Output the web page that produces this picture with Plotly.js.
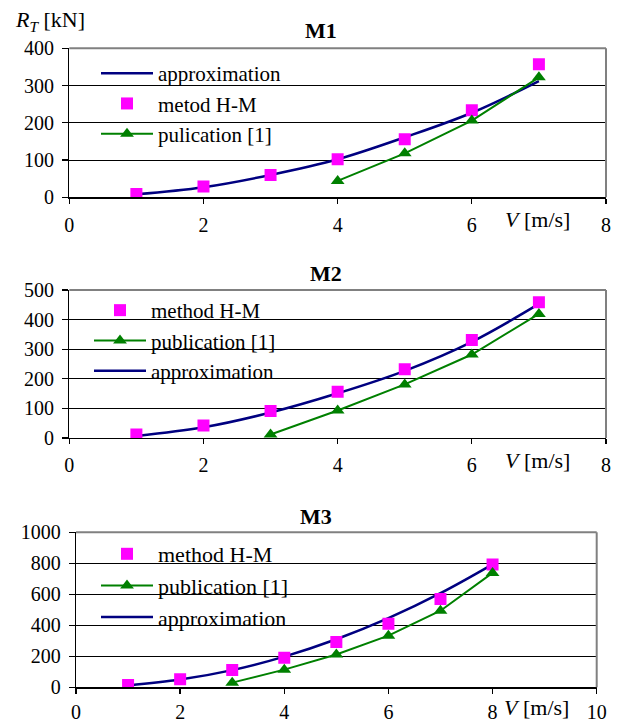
<!DOCTYPE html>
<html>
<head>
<meta charset="utf-8">
<script src="https://cdn.plot.ly/plotly-3.0.1.min.js"></script>
<style>html,body{margin:0;padding:0;background:#fff;}#chart{width:621px;height:726px;}</style>
</head>
<body>
<div id="chart"></div>
<script>
// ---- data ----
const vM1 = [1, 2, 3, 4, 5, 6, 7];
const hmM1 = [9, 29, 60, 102, 156, 234, 357];
const pubVM1 = [4, 5, 6, 7];
const pubM1 = [44, 118, 206, 322];
const approxM1 = [8, 27, 60, 102, 161, 227, 312];

const vM2 = [1, 2, 3, 4, 5, 6, 7];
const hmM2 = [12, 42, 91, 156, 232, 331, 459];
const pubVM2 = [3, 4, 5, 6, 7];
const pubM2 = [12, 93, 181, 282, 419];
const approxM2 = [7, 36, 86, 151, 227, 325, 453];

const vM3 = [1, 2, 3, 4, 5, 6, 7, 8];
const hmM3 = [15, 52, 112, 191, 292, 410, 569, 792];
const pubVM3 = [3, 4, 5, 6, 7, 8];
const pubM3 = [30, 114, 212, 333, 494, 738];
const approxM3 = [12, 50, 111, 198, 310, 446, 607, 793];

const titles = ['M1', 'M2', 'M3'];
const namesM1 = ['approximation', 'metod H-M', 'pulication [1]'];
const namesM23 = ['approximation', 'method H-M', 'publication [1]'];
const yLabel = '<i>R</i><sub><i>T</i></sub> [kN]';
const xLabel = '<i>V</i> [m/s]';

// ---- style ----
const W = 621, H = 726;
const FONT = '"Liberation Serif", "Times New Roman", serif';
const NAVY = '#000080', MAG = '#FF00FF', GREEN = '#008000';
const px = x => x / W;
const py = y => 1 - y / H;

function tracesFor(i, v, hm, pv, pub, ap, names, ranks) {
  const sfx = i === 1 ? '' : String(i);
  const xa = 'x' + sfx, ya = 'y' + sfx, lg = 'legend' + sfx;
  return [
    {x: v, y: ap, name: names[0], mode: 'lines', line: {color: NAVY, width: 2.5, shape: 'spline', smoothing: 1},
     xaxis: xa, yaxis: ya, legend: lg, legendrank: ranks[0]},
    {x: v, y: hm, name: names[1], mode: 'markers', marker: {symbol: 'square', size: 12, color: MAG},
     xaxis: xa, yaxis: ya, legend: lg, legendrank: ranks[1]},
    {x: pv, y: pub, name: names[2], mode: 'lines+markers', line: {color: GREEN, width: 2},
     marker: {symbol: 'triangle-up', size: 12, color: GREEN},
     xaxis: xa, yaxis: ya, legend: lg, legendrank: ranks[2]}
  ];
}

const data = [].concat(
  tracesFor(1, vM1, hmM1, pubVM1, pubM1, approxM1, namesM1, [1, 2, 3]),
  tracesFor(2, vM2, hmM2, pubVM2, pubM2, approxM2, namesM23, [3, 1, 2]),
  tracesFor(3, vM3, hmM3, pubVM3, pubM3, approxM3, namesM23, [3, 1, 2])
);

const panels = [
  {xd: [69.3, 606], yd: [48.3, 197.3], xr: [0, 8], yr: [0, 400], ydt: 100, box: [86, 315, 145],
   title: [321, 30.5], vlab: [537, 219], leg: [96, 53], legFont: 21, xstand: 4},
  {xd: [69.3, 606], yd: [290, 438], xr: [0, 8], yr: [0, 500], ydt: 100, box: [81, 306, 392],
   title: [326, 273], vlab: [537, 460], leg: [89, 290], legFont: 21, xstand: 4},
  {xd: [76, 596.7], yd: [532.3, 687.3], xr: [0, 10], yr: [0, 1000], ydt: 200, box: [85, 315, 640],
   title: [316, 516.7], vlab: [536, 707], leg: [96, 533], legFont: 22, xstand: 1}
];

const layout = {
  width: W, height: H,
  margin: {l: 0, r: 0, t: 0, b: 0},
  paper_bgcolor: '#fff', plot_bgcolor: '#fff',
  font: {family: FONT, size: 20, color: '#000'},
  showlegend: true,
  shapes: [], annotations: []
};

panels.forEach((p, k) => {
  const sfx = k === 0 ? '' : String(k + 1);
  layout['xaxis' + sfx] = {
    domain: [px(p.xd[0]), px(p.xd[1])], range: p.xr, dtick: 2, tick0: 0,
    anchor: 'y' + sfx, showgrid: false, zeroline: false,
    showline: true, linecolor: '#000', linewidth: 1.3,
    ticks: 'outside', ticklen: 5, tickcolor: '#000', tickwidth: 1.3,
    tickfont: {family: FONT, size: 20}, ticklabelstandoff: p.xstand, fixedrange: true
  };
  layout['yaxis' + sfx] = {
    domain: [py(p.yd[1]), py(p.yd[0])], range: p.yr, dtick: p.ydt, tick0: 0,
    anchor: 'x' + sfx, showgrid: true, gridcolor: '#000', gridwidth: 1, zeroline: false,
    showline: true, linecolor: '#000', linewidth: 1.3,
    ticks: 'outside', ticklen: 6, tickcolor: '#000', tickwidth: 1.3,
    tickfont: {family: FONT, size: 20}, ticklabelstandoff: 4, fixedrange: true
  };
  // white box behind legend (hides grid lines there)
  layout.shapes.push({type: 'rect', xref: 'paper', yref: 'paper', layer: 'between',
    x0: px(p.box[0]), x1: px(p.box[1]), y0: py(p.box[2]), y1: py(p.yd[0]) - 0.002,
    fillcolor: '#fff', line: {width: 0}});
  // gray frame: top and right
  layout.shapes.push({type: 'line', xref: 'paper', yref: 'paper', layer: 'above',
    x0: px(p.xd[0]), x1: px(p.xd[1]), y0: py(p.yd[0]), y1: py(p.yd[0]),
    line: {color: '#808080', width: 2}});
  layout.shapes.push({type: 'line', xref: 'paper', yref: 'paper', layer: 'above',
    x0: px(p.xd[1]), x1: px(p.xd[1]), y0: py(p.yd[0]), y1: py(p.yd[1]),
    line: {color: '#808080', width: 2}});
  layout.annotations.push({text: '<b>' + titles[k] + '</b>', xref: 'paper', yref: 'paper',
    x: px(p.title[0]), y: py(p.title[1]), xanchor: 'center', yanchor: 'middle', showarrow: false,
    font: {family: FONT, size: 22}});
  layout.annotations.push({text: xLabel, xref: 'paper', yref: 'paper',
    x: px(p.vlab[0]), y: py(p.vlab[1]), xanchor: 'center', yanchor: 'middle', showarrow: false,
    font: {family: FONT, size: 22}});
  layout['legend' + sfx] = {
    x: px(p.leg[0]), y: py(p.leg[1]), xref: 'paper', yref: 'paper', xanchor: 'left', yanchor: 'top',
    bgcolor: 'rgba(0,0,0,0)', borderwidth: 0, font: {family: FONT, size: p.legFont},
    itemwidth: 52, traceorder: 'normal', tracegroupgap: 0
  };
});

layout.annotations.push({text: yLabel, xref: 'paper', yref: 'paper',
  x: px(13), y: py(21), xanchor: 'left', yanchor: 'middle', showarrow: false,
  font: {family: FONT, size: 22}});

Plotly.newPlot('chart', data, layout, {displayModeBar: false, staticPlot: true});
</script>
</body>
</html>
